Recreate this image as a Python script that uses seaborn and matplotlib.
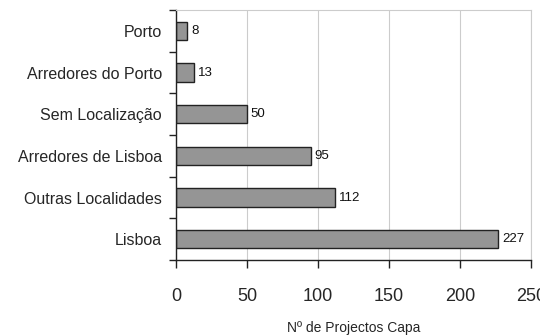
import matplotlib
matplotlib.use("Agg")
import matplotlib.pyplot as plt
from matplotlib.ticker import FixedLocator
import seaborn as sns
import pandas as pd

locations = ["Porto", "Arredores do Porto", "Sem Localização",
             "Arredores de Lisboa", "Outras Localidades", "Lisboa"]
projects = [8, 13, 50, 95, 112, 227]
x_ticks = [0, 50, 100, 150, 200, 250]

df = pd.DataFrame({"local": locations, "n": projects})

sns.set_theme(style="white")
plt.rcParams["font.family"] = ["Liberation Sans", "DejaVu Sans"]

fig = plt.figure(figsize=(5.4, 3.36), dpi=100)
ax = fig.add_axes([176 / 540, 1 - 260 / 336, (531 - 176) / 540, (260 - 10) / 336])

sns.barplot(data=df, x="n", y="local", orient="h", ax=ax,
            color="#959595", edgecolor="#222222", linewidth=1.0,
            width=0.44, saturation=1)

for i, v in enumerate(projects):
    ax.text(v + 2.5, i, str(v), va="center", ha="left", fontsize=9.5, color="#111111")

ax.set_xlim(0, 250)
ax.set_ylim(len(locations) - 0.5, -0.5)
ax.set_xticks(x_ticks)
ax.set_xticklabels([str(t) for t in x_ticks], fontsize=13)
ax.xaxis.grid(True, color="#cccccc", linewidth=0.8)
ax.set_axisbelow(True)

ax.set_yticks(range(len(locations)))
ax.set_yticklabels(locations, fontsize=11.5)
ax.yaxis.set_minor_locator(FixedLocator([i - 0.5 for i in range(len(locations) + 1)]))
ax.tick_params(axis="y", which="major", length=0, pad=10)
ax.tick_params(axis="y", which="minor", left=True, length=5, width=1, color="#222222")
ax.tick_params(axis="x", which="major", bottom=True, length=6, width=1, color="#222222", pad=14)

ax.set_xlabel("Nº de Projectos Capa", fontsize=10, labelpad=12)
ax.set_ylabel("")

for side in ("left", "bottom"):
    ax.spines[side].set_color("#222222")
    ax.spines[side].set_linewidth(1.0)
for side in ("top", "right"):
    ax.spines[side].set_color("#cccccc")
    ax.spines[side].set_linewidth(0.8)

fig.savefig("out.png", dpi=100, facecolor="white")
